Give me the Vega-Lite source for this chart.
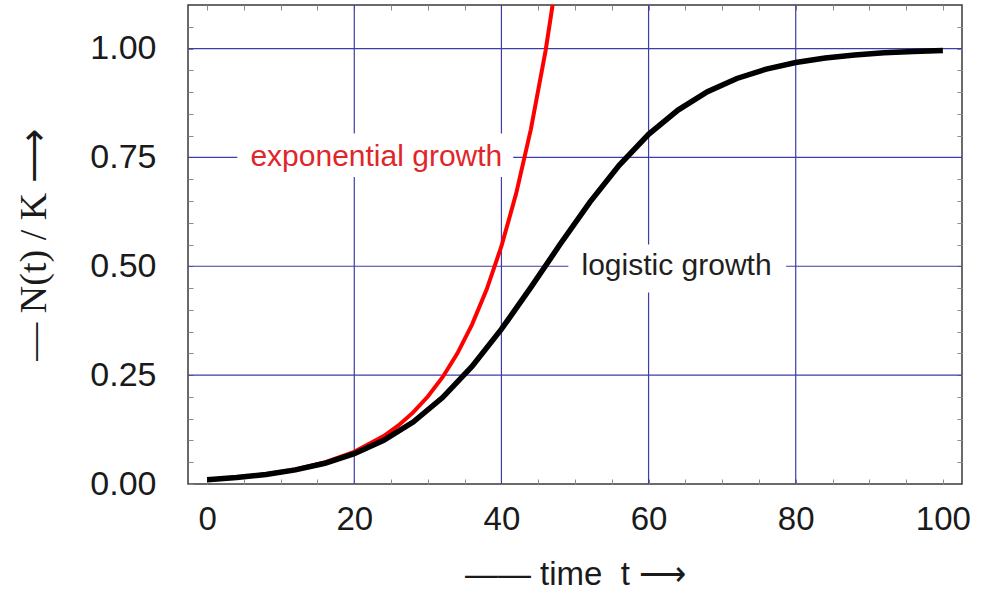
{
  "$schema": "https://vega.github.io/schema/vega-lite/v6.json",
  "width": 774,
  "height": 479,
  "autosize": "none",
  "padding": {"left": 188, "top": 5, "right": 28, "bottom": 110},
  "background": "white",
  "config": {
    "view": {"stroke": "#3a3a3a", "strokeWidth": 1.5},
    "axis": {"domain": false, "grid": false, "tickColor": "#8a8a8a", "tickWidth": 1, "tickSize": -5, "labelFont": "Liberation Sans", "labelColor": "#1a1a1a", "labelOverlap": false, "labelFlush": false, "labelBound": false}
  },
  "resolve": {"axis": {"x": "independent", "y": "independent"}},
  "datasets": {
    "gridx": [{"t": 20}, {"t": 40}, {"t": 60}, {"t": 80}],
    "gridy": [{"n": 0.25}, {"n": 0.5}, {"n": 0.75}, {"n": 1.0}],
    "boxes": [
      {"t1": 4.1, "t2": 41.6, "n1": 0.705, "n2": 0.805},
      {"t1": 49.1, "t2": 78.7, "n1": 0.44, "n2": 0.55}
    ],
    "labels": [
      {"t": 23.0, "n": 0.75, "text": "exponential growth", "series": "exponential"},
      {"t": 63.8, "n": 0.5, "text": "logistic growth", "series": "logistic"}
    ],
    "logistic": [
      {"t": 0, "n": 0.0100}, {"t": 4, "n": 0.0149}, {"t": 8, "n": 0.0220}, {"t": 12, "n": 0.0325},
      {"t": 16, "n": 0.0476}, {"t": 20, "n": 0.0695}, {"t": 24, "n": 0.1002}, {"t": 28, "n": 0.1424},
      {"t": 32, "n": 0.1986}, {"t": 36, "n": 0.2699}, {"t": 40, "n": 0.3555}, {"t": 44, "n": 0.4514},
      {"t": 48, "n": 0.5510}, {"t": 52, "n": 0.6468}, {"t": 56, "n": 0.7320}, {"t": 60, "n": 0.8030},
      {"t": 64, "n": 0.8587}, {"t": 68, "n": 0.9007}, {"t": 72, "n": 0.9312}, {"t": 76, "n": 0.9528},
      {"t": 80, "n": 0.9679}, {"t": 84, "n": 0.9782}, {"t": 88, "n": 0.9853}, {"t": 92, "n": 0.9901},
      {"t": 96, "n": 0.9933}, {"t": 100, "n": 0.9955}
    ],
    "exponential": [
      {"t": 0, "n": 0.0100}, {"t": 4, "n": 0.0149}, {"t": 8, "n": 0.0223}, {"t": 12, "n": 0.0332},
      {"t": 16, "n": 0.0495}, {"t": 20, "n": 0.0739}, {"t": 24, "n": 0.1102}, {"t": 26, "n": 0.1346},
      {"t": 28, "n": 0.1644}, {"t": 30, "n": 0.2009}, {"t": 32, "n": 0.2453}, {"t": 34, "n": 0.2996},
      {"t": 36, "n": 0.3660}, {"t": 38, "n": 0.4470}, {"t": 40, "n": 0.5460}, {"t": 42, "n": 0.6669},
      {"t": 44, "n": 0.8145}, {"t": 46, "n": 0.9948}, {"t": 48, "n": 1.2151}
    ]
  },
  "layer": [
    {
      "data": {"name": "gridx"},
      "mark": {"type": "rule", "color": "#3d3da3", "strokeWidth": 1.2},
      "encoding": {
        "x": {"field": "t", "type": "quantitative", "scale": {"domain": [-2.6, 102.6], "nice": false, "zero": false},
          "axis": {"orient": "top", "values": [0,5,10,15,20,25,30,35,40,45,50,55,60,65,70,75,80,85,90,95,100], "labels": false, "title": null}}
      }
    },
    {
      "data": {"name": "gridy"},
      "mark": {"type": "rule", "color": "#3d3da3", "strokeWidth": 1.2},
      "encoding": {
        "y": {"field": "n", "type": "quantitative", "scale": {"domain": [0, 1.1], "nice": false, "zero": false},
          "axis": {"orient": "right", "values": [0.05,0.1,0.15,0.2,0.25,0.3,0.35,0.4,0.45,0.5,0.55,0.6,0.65,0.7,0.75,0.8,0.85,0.9,0.95,1.0,1.05], "labels": false, "title": null}}
      }
    },
    {
      "data": {"name": "boxes"},
      "mark": {"type": "rect", "color": "white"},
      "encoding": {
        "x": {"field": "t1", "type": "quantitative", "axis": null},
        "x2": {"field": "t2"},
        "y": {"field": "n1", "type": "quantitative", "axis": null},
        "y2": {"field": "n2"}
      }
    },
    {
      "data": {"name": "labels"},
      "mark": {"type": "text", "font": "Liberation Sans", "fontSize": 30, "align": "center", "baseline": "middle"},
      "encoding": {
        "x": {"field": "t", "type": "quantitative", "axis": null},
        "y": {"field": "n", "type": "quantitative", "axis": null},
        "text": {"field": "text"},
        "color": {"field": "series", "type": "nominal", "scale": {"domain": ["exponential", "logistic"], "range": ["#e0262a", "#231f20"]}, "legend": null}
      }
    },
    {
      "data": {"name": "exponential"},
      "mark": {"type": "line", "color": "#ff0000", "strokeWidth": 4, "clip": true},
      "encoding": {
        "x": {"field": "t", "type": "quantitative", "axis": null},
        "y": {"field": "n", "type": "quantitative", "axis": null}
      }
    },
    {
      "data": {"name": "logistic"},
      "mark": {"type": "line", "color": "#000000", "strokeWidth": 5.5, "clip": true},
      "encoding": {
        "x": {"field": "t", "type": "quantitative",
          "axis": {"orient": "bottom", "values": [0,5,10,15,20,25,30,35,40,45,50,55,60,65,70,75,80,85,90,95,100],
            "labelExpr": "datum.value % 20 == 0 ? datum.label : ''", "format": "d",
            "labelFontSize": 33, "labelPadding": 24, "labelBaseline": "top",
            "title": "—— time\u00a0\u00a0t ⟶", "titleFont": "Liberation Sans", "titleFontSize": 33, "titleFontWeight": "normal", "titleColor": "#1a1a1a", "titlePadding": 22}},
        "y": {"field": "n", "type": "quantitative",
          "axis": {"orient": "left", "values": [0,0.05,0.1,0.15,0.2,0.25,0.3,0.35,0.4,0.45,0.5,0.55,0.6,0.65,0.7,0.75,0.8,0.85,0.9,0.95,1.0,1.05],
            "labelExpr": "abs(datum.value*4 - round(datum.value*4)) < 0.000001 ? format(datum.value, '.2f') : ''",
            "labelFontSize": 34, "labelPadding": 37,
            "title": "— N(t) / K ⟶", "titleFont": "Liberation Serif", "titleFontSize": 38, "titleFontWeight": "normal", "titleColor": "#1a1a1a", "titlePadding": 36}}
      }
    }
  ]
}
